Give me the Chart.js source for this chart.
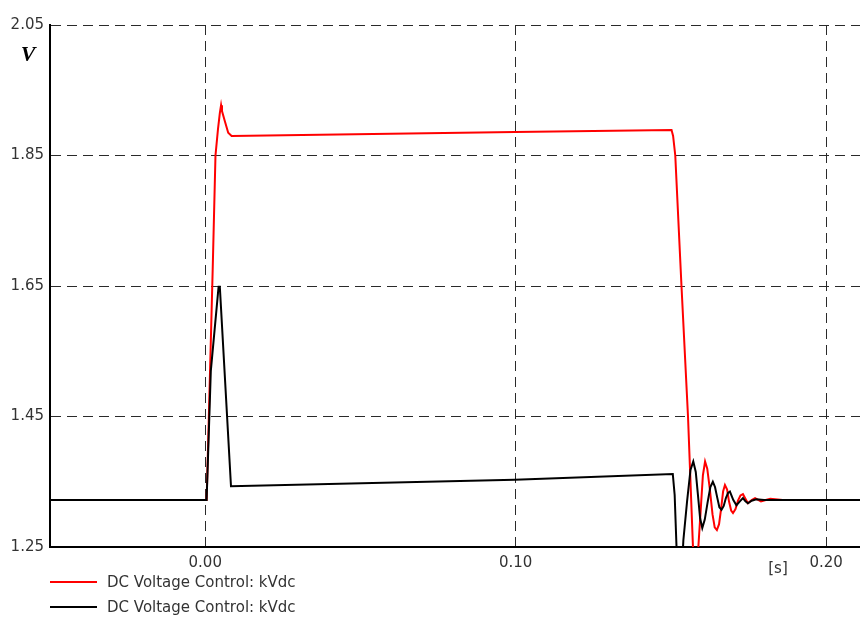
<!DOCTYPE html>
<html>
<head>
<meta charset="utf-8">
<script src="https://cdn.jsdelivr.net/npm/chart.js@4/dist/chart.umd.min.js"></script>
<style>
  html, body { margin: 0; padding: 0; background: #fff; }
  canvas { display: block; }
</style>
</head>
<body>
<canvas id="voltageChart" width="860" height="617"></canvas>
<script>
// Tempo (s) e tensão (kV)
const redTimes = [-0.05, 0.00045, 0.0010, 0.0024, 0.0033, 0.0041, 0.0047, 0.0051, 0.0054, 0.0063, 0.0074, 0.0085,
    0.0997, 0.1502, 0.1507, 0.1514, 0.1534, 0.1555, 0.1571, 0.1579, 0.1587, 0.1595, 0.1603, 0.1610,
    0.1617, 0.1625, 0.1634, 0.1641, 0.1648, 0.1655, 0.1662, 0.1668, 0.1674, 0.1681, 0.1687, 0.1694,
    0.1700, 0.1708, 0.1716, 0.1724, 0.1732, 0.1740, 0.1748, 0.1760, 0.1771, 0.1790, 0.1820, 0.1860, 0.211];
const redValues = [1.322, 1.322, 1.42, 1.675, 1.85, 1.89, 1.915, 1.927, 1.918, 1.903, 1.885, 1.880,
    1.886, 1.889, 1.88, 1.85, 1.65, 1.45, 1.25, 1.20, 1.24, 1.30, 1.36, 1.381,
    1.37, 1.34, 1.30, 1.28, 1.276, 1.285, 1.31, 1.335, 1.345, 1.338, 1.320, 1.306,
    1.302, 1.308, 1.321, 1.329, 1.331, 1.324, 1.317, 1.322, 1.325, 1.320, 1.324, 1.322, 1.322];

const blackTimes = [-0.05, 0.00045, 0.0018, 0.0043, 0.0047, 0.0083, 0.0997, 0.1506, 0.1512, 0.1518, 0.1524,
    0.1530, 0.1536, 0.1540, 0.1552, 0.1563, 0.1572, 0.1580, 0.1587, 0.1594, 0.1601, 0.1609, 0.1618,
    0.1627, 0.1635, 0.1642, 0.1649, 0.1656, 0.1663, 0.1670, 0.1677, 0.1684, 0.1690, 0.1701, 0.1711,
    0.1722, 0.1732, 0.1740, 0.1748, 0.1760, 0.1775, 0.1800, 0.211];
const blackValues = [1.322, 1.322, 1.52, 1.649, 1.649, 1.343, 1.353, 1.362, 1.33, 1.25, 1.18,
    1.16, 1.22, 1.26, 1.32, 1.368, 1.381, 1.365, 1.33, 1.294, 1.279, 1.292, 1.318,
    1.342, 1.350, 1.342, 1.326, 1.311, 1.307, 1.313, 1.325, 1.333, 1.335, 1.322, 1.314,
    1.320, 1.325, 1.320, 1.317, 1.321, 1.323, 1.322, 1.322];

const xTicks = [0.00, 0.10, 0.20];
const yTicks = [1.25, 1.45, 1.65, 1.85, 2.05];
const seriesLabels = ['DC Voltage Control: kVdc', 'DC Voltage Control: kVdc'];
const seriesColors = ['#ff0000', '#000000'];
const yUnit = 'V';
const xUnit = '[s]';

const toPoints = (times, values) => times.map((t, i) => ({ x: t, y: values[i] }));

// Rótulos extras: unidade dos eixos e legenda em coluna
const extraText = {
    id: 'extraText',
    afterDraw(chart) {
        const ctx = chart.ctx;
        ctx.save();
        ctx.fillStyle = '#000';
        ctx.textAlign = 'center';
        ctx.textBaseline = 'middle';
        ctx.font = 'bold italic 22px "Liberation Serif"';
        ctx.fillText(yUnit, 28, 55);
        ctx.font = '15px "DejaVu Sans"';
        ctx.fillStyle = '#333';
        ctx.fillText(xUnit, 778, 569);

        ctx.textAlign = 'left';
        seriesLabels.forEach((label, i) => {
            const y = 582 + i * 25;
            ctx.strokeStyle = seriesColors[i];
            ctx.lineWidth = 2;
            ctx.beginPath();
            ctx.moveTo(50, y);
            ctx.lineTo(97, y);
            ctx.stroke();
            ctx.fillText(label, 107, y + 1);
        });
        ctx.restore();
    }
};

const ctx = document.getElementById('voltageChart').getContext('2d');
new Chart(ctx, {
    type: 'line',
    data: {
        datasets: [
            {
                label: seriesLabels[0],
                data: toPoints(redTimes, redValues),
                borderColor: seriesColors[0],
                borderWidth: 2,
                pointRadius: 0,
                tension: 0,
                order: 1
            },
            {
                label: seriesLabels[1],
                data: toPoints(blackTimes, blackValues),
                borderColor: seriesColors[1],
                borderWidth: 2,
                pointRadius: 0,
                tension: 0,
                order: 0
            }
        ]
    },
    options: {
        responsive: false,
        animation: false,
        layout: { padding: { top: 25, right: 0, left: 0, bottom: 0 } },
        scales: {
            x: {
                type: 'linear',
                min: -0.05,
                max: 0.2109,
                afterFit: (scale) => { scale.height = 70; },
                afterBuildTicks: (scale) => { scale.ticks = xTicks.map(v => ({ value: v })); },
                grid: { color: '#2a2a2a', lineWidth: 1, drawTicks: false },
                border: { color: '#000', width: 2, dash: [10, 6] },
                ticks: {
                    padding: 7,
                    color: '#333',
                    font: { family: 'DejaVu Sans', size: 15 },
                    callback: (v) => v.toFixed(2)
                }
            },
            y: {
                min: 1.25,
                max: 2.05,
                afterFit: (scale) => { scale.width = 50; },
                afterBuildTicks: (scale) => { scale.ticks = yTicks.map(v => ({ value: v })); },
                grid: { color: '#2a2a2a', lineWidth: 1, drawTicks: false },
                border: { color: '#000', width: 2, dash: [10, 6] },
                ticks: {
                    padding: 6,
                    color: '#333',
                    font: { family: 'DejaVu Sans', size: 15 },
                    callback: (v) => v.toFixed(2)
                }
            }
        },
        plugins: {
            legend: { display: false },
            tooltip: { enabled: false }
        }
    },
    plugins: [extraText]
});
</script>
</body>
</html>
